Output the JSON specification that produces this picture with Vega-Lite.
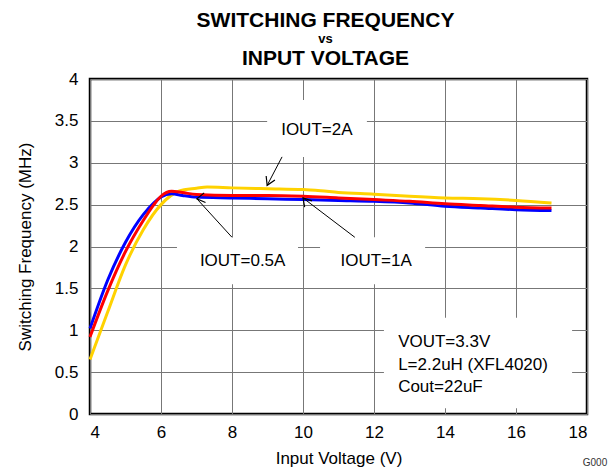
{
  "$schema": "https://vega.github.io/schema/vega-lite/v6.json",
  "width": 497,
  "height": 335,
  "autosize": "none",
  "padding": {"left": 90, "top": 79, "right": 22, "bottom": 57},
  "background": "white",
  "config": {
    "font": "Liberation Sans",
    "view": {"stroke": "black", "strokeWidth": 2.5},
    "axis": {"labelColor": "black", "titleColor": "black", "labelFont": "Liberation Sans", "titleFont": "Liberation Sans"}
  },
  "title": {
    "text": "SWITCHING FREQUENCY",
    "subtitle": "vs",
    "anchor": "middle",
    "frame": "group",
    "dx": -13,
    "fontSize": 21,
    "fontWeight": "bold",
    "color": "black",
    "subtitleFontSize": 13,
    "subtitleFontWeight": "bold",
    "subtitleColor": "black",
    "subtitlePadding": 2,
    "offset": 1
  },
  "datasets": {
    "curves": [
      {"iout": "2A", "vin": 4.0, "f": 0.65},
      {"iout": "2A", "vin": 4.5, "f": 1.22},
      {"iout": "2A", "vin": 5.0, "f": 1.78},
      {"iout": "2A", "vin": 5.5, "f": 2.2},
      {"iout": "2A", "vin": 6.0, "f": 2.5},
      {"iout": "2A", "vin": 6.5, "f": 2.66},
      {"iout": "2A", "vin": 7.0, "f": 2.695},
      {"iout": "2A", "vin": 7.3, "f": 2.71},
      {"iout": "2A", "vin": 8.0, "f": 2.7},
      {"iout": "2A", "vin": 9.0, "f": 2.69},
      {"iout": "2A", "vin": 10.0, "f": 2.68},
      {"iout": "2A", "vin": 10.5, "f": 2.665},
      {"iout": "2A", "vin": 11.0, "f": 2.645},
      {"iout": "2A", "vin": 12.0, "f": 2.625},
      {"iout": "2A", "vin": 13.0, "f": 2.6},
      {"iout": "2A", "vin": 14.0, "f": 2.58},
      {"iout": "2A", "vin": 15.0, "f": 2.57},
      {"iout": "2A", "vin": 16.0, "f": 2.55},
      {"iout": "2A", "vin": 17.0, "f": 2.52},
      {"iout": "0.5A", "vin": 4.0, "f": 1.02},
      {"iout": "0.5A", "vin": 4.5, "f": 1.6},
      {"iout": "0.5A", "vin": 5.0, "f": 2.05},
      {"iout": "0.5A", "vin": 5.5, "f": 2.38},
      {"iout": "0.5A", "vin": 5.8, "f": 2.52},
      {"iout": "0.5A", "vin": 6.0, "f": 2.59},
      {"iout": "0.5A", "vin": 6.3, "f": 2.63},
      {"iout": "0.5A", "vin": 6.6, "f": 2.61},
      {"iout": "0.5A", "vin": 7.0, "f": 2.59},
      {"iout": "0.5A", "vin": 8.0, "f": 2.58},
      {"iout": "0.5A", "vin": 9.0, "f": 2.57},
      {"iout": "0.5A", "vin": 10.0, "f": 2.56},
      {"iout": "0.5A", "vin": 11.0, "f": 2.55},
      {"iout": "0.5A", "vin": 12.0, "f": 2.54},
      {"iout": "0.5A", "vin": 13.0, "f": 2.52},
      {"iout": "0.5A", "vin": 14.0, "f": 2.48},
      {"iout": "0.5A", "vin": 15.0, "f": 2.46},
      {"iout": "0.5A", "vin": 16.0, "f": 2.44},
      {"iout": "0.5A", "vin": 17.0, "f": 2.43},
      {"iout": "1A", "vin": 4.0, "f": 0.92},
      {"iout": "1A", "vin": 4.5, "f": 1.47},
      {"iout": "1A", "vin": 5.0, "f": 1.94},
      {"iout": "1A", "vin": 5.5, "f": 2.31},
      {"iout": "1A", "vin": 5.8, "f": 2.5},
      {"iout": "1A", "vin": 6.0, "f": 2.6},
      {"iout": "1A", "vin": 6.3, "f": 2.66},
      {"iout": "1A", "vin": 6.6, "f": 2.645},
      {"iout": "1A", "vin": 7.0, "f": 2.62},
      {"iout": "1A", "vin": 8.0, "f": 2.61},
      {"iout": "1A", "vin": 9.0, "f": 2.61},
      {"iout": "1A", "vin": 10.0, "f": 2.6},
      {"iout": "1A", "vin": 11.0, "f": 2.58},
      {"iout": "1A", "vin": 12.0, "f": 2.56},
      {"iout": "1A", "vin": 13.0, "f": 2.54},
      {"iout": "1A", "vin": 14.0, "f": 2.51},
      {"iout": "1A", "vin": 15.0, "f": 2.49},
      {"iout": "1A", "vin": 16.0, "f": 2.47},
      {"iout": "1A", "vin": 17.0, "f": 2.46}
    ],
    "boxes": [
      {"name": "2A", "xa": 8.99, "xb": 11.8, "ya": 3.07, "yb": 3.75},
      {"name": "0.5A", "xa": 6.45, "xb": 9.86, "ya": 1.55, "yb": 2.11},
      {"name": "1A", "xa": 10.48, "xb": 13.44, "ya": 1.55, "yb": 2.11},
      {"name": "cond", "xa": 12.28, "xb": 17.58, "ya": 0.07, "yb": 1.15}
    ],
    "arrows": [
      {"label": "2A", "x1": 9.41, "y1": 3.07, "x2": 8.99, "y2": 2.73},
      {"label": "0.5A", "x1": 8.0, "y1": 2.11, "x2": 7.01, "y2": 2.57},
      {"label": "1A", "x1": 11.46, "y1": 2.11, "x2": 10.0, "y2": 2.58}
    ],
    "labels": [
      {"text": "IOUT=2A", "tx": 10.39, "ty": 3.39},
      {"text": "IOUT=0.5A", "tx": 8.3, "ty": 1.83},
      {"text": "IOUT=1A", "tx": 12.06, "ty": 1.83}
    ],
    "conditions": [
      {"text": "VOUT=3.3V", "tx": 12.68, "ty": 0.86},
      {"text": "L=2.2uH (XFL4020)", "tx": 12.68, "ty": 0.59},
      {"text": "Cout=22uF", "tx": 12.68, "ty": 0.32}
    ],
    "code": [
      {"text": "G000", "tx": 17.88, "ty": -0.59}
    ]
  },
  "layer": [
    {
      "data": {"name": "boxes"},
      "mark": {"type": "rect", "fill": "white", "stroke": null},
      "encoding": {
        "x": {
          "field": "xa", "type": "quantitative",
          "scale": {"domain": [4, 18], "nice": false, "zero": false},
          "axis": {
            "title": "Input Voltage (V)",
            "values": [4, 6, 8, 10, 12, 14, 16, 18],
            "format": "~g",
            "grid": true, "gridColor": "#777777", "gridWidth": 1, "gridOpacity": 1,
            "ticks": false, "domain": false,
            "labelFontSize": 17, "labelPadding": 10,
            "titleFontSize": 17, "titleFontWeight": "normal", "titlePadding": 10
          }
        },
        "x2": {"field": "xb"},
        "y": {
          "field": "ya", "type": "quantitative",
          "scale": {"domain": [0, 4], "nice": false, "zero": false},
          "axis": {
            "title": "Switching Frequency (MHz)",
            "values": [0, 0.5, 1, 1.5, 2, 2.5, 3, 3.5, 4],
            "format": "~g",
            "grid": true, "gridColor": "#777777", "gridWidth": 1, "gridOpacity": 1,
            "ticks": false, "domain": false,
            "labelFontSize": 17, "labelPadding": 12,
            "titleFontSize": 17, "titleFontWeight": "normal", "titlePadding": 20
          }
        },
        "y2": {"field": "yb"}
      }
    },
    {
      "data": {"name": "curves"},
      "mark": {"type": "line", "strokeWidth": 3, "interpolate": "monotone"},
      "encoding": {
        "x": {"field": "vin", "type": "quantitative", "axis": null},
        "y": {"field": "f", "type": "quantitative"},
        "color": {
          "field": "iout", "type": "nominal",
          "scale": {"domain": ["2A", "0.5A", "1A"], "range": ["#FFD200", "#0000FF", "#FF0000"]},
          "legend": null
        },
        "order": {"field": "vin", "type": "quantitative"}
      }
    },
    {
      "data": {"name": "arrows"},
      "mark": {"type": "rule", "color": "black", "strokeWidth": 1},
      "encoding": {
        "x": {"field": "x1", "type": "quantitative", "axis": null},
        "y": {"field": "y1", "type": "quantitative"},
        "x2": {"field": "x2"},
        "y2": {"field": "y2"}
      }
    },
    {
      "data": {"name": "arrows"},
      "mark": {"type": "point", "shape": "M-1,-0.6L0,0L-1,0.6", "filled": false, "stroke": "black", "strokeWidth": 1.2, "size": 260, "opacity": 1},
      "encoding": {
        "x": {"field": "x2", "type": "quantitative", "axis": null},
        "y": {"field": "y2", "type": "quantitative"},
        "angle": {
          "field": "label", "type": "nominal",
          "scale": {"domain": ["2A", "0.5A", "1A"], "range": [115, 229, 218]},
          "legend": null
        }
      }
    },
    {
      "data": {"name": "labels"},
      "mark": {"type": "text", "fontSize": 17, "align": "center", "baseline": "middle", "color": "black"},
      "encoding": {
        "x": {
          "field": "tx", "type": "quantitative",
          "axis": {
            "orient": "top", "title": "INPUT VOLTAGE", "labels": false, "ticks": false, "domain": false, "grid": false,
            "titleFontSize": 21, "titleFontWeight": "bold", "titlePadding": 11, "titleX": 235
          }
        },
        "y": {"field": "ty", "type": "quantitative"},
        "text": {"field": "text"}
      }
    },
    {
      "data": {"name": "conditions"},
      "mark": {"type": "text", "fontSize": 17, "align": "left", "baseline": "middle", "color": "black"},
      "encoding": {
        "x": {"field": "tx", "type": "quantitative", "axis": null},
        "y": {"field": "ty", "type": "quantitative"},
        "text": {"field": "text"}
      }
    },
    {
      "data": {"name": "code"},
      "mark": {"type": "text", "fontSize": 10, "align": "left", "baseline": "middle", "color": "#333333", "clip": false},
      "encoding": {
        "x": {"field": "tx", "type": "quantitative", "axis": null},
        "y": {"field": "ty", "type": "quantitative"},
        "text": {"field": "text"}
      }
    }
  ],
  "resolve": {"axis": {"x": "independent"}}
}
